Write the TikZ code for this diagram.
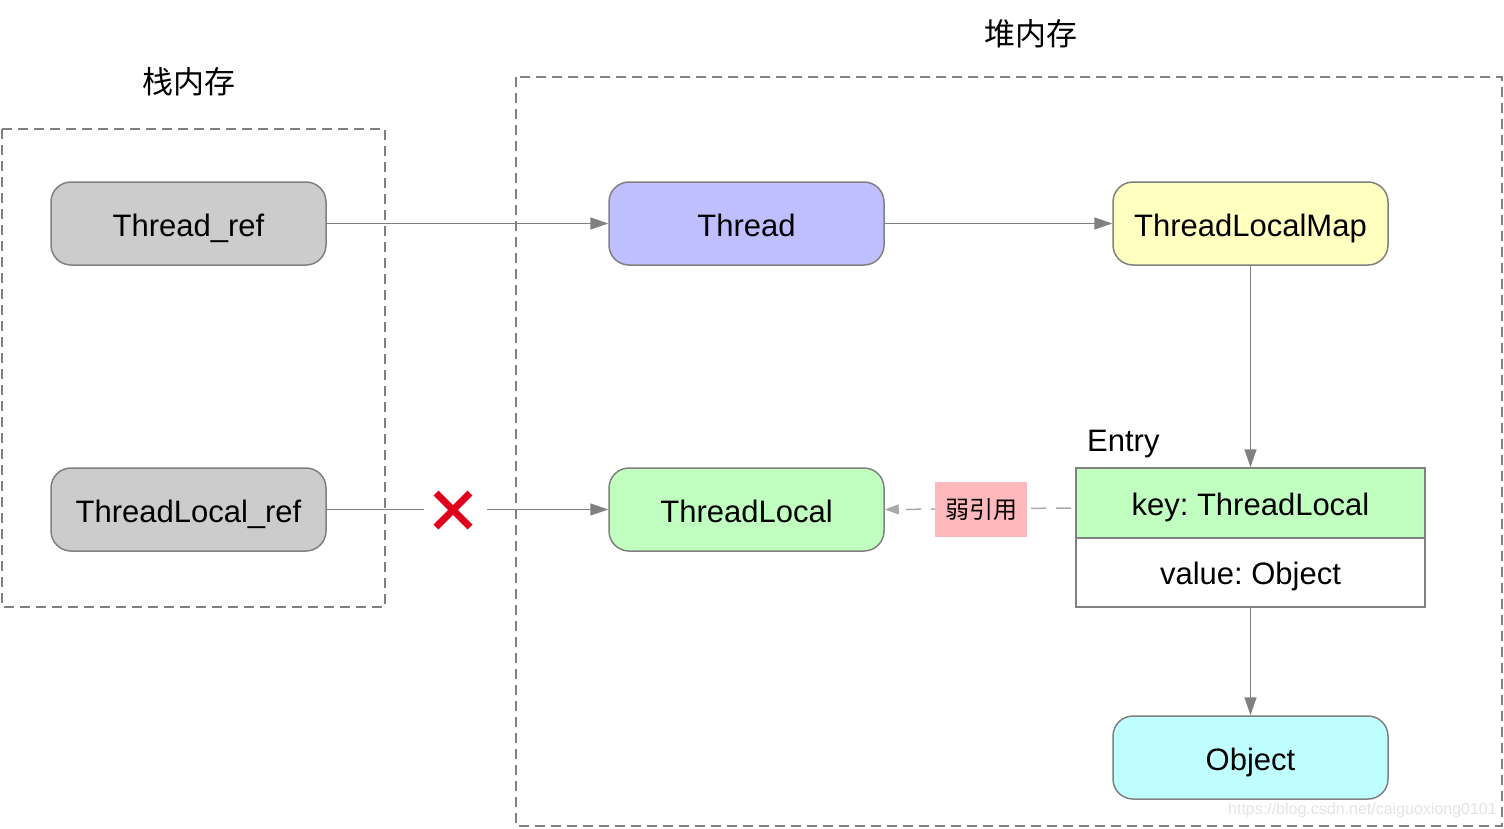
\documentclass[tikz,border=0pt]{standalone}
\usepackage{fontspec}
\setmainfont{Liberation Sans}
\newfontfamily\cjk{Noto Sans CJK SC}
\usetikzlibrary{arrows.meta}
\definecolor{edgegray}{HTML}{808080}
\definecolor{lightedge}{HTML}{AAAAAA}
\definecolor{refgray}{HTML}{CCCCCC}
\definecolor{threadblue}{HTML}{BFBFFF}
\definecolor{mapyellow}{HTML}{FFFFC0}
\definecolor{localgreen}{HTML}{C0FFC0}
\definecolor{objcyan}{HTML}{C0FFFF}
\definecolor{weakpink}{HTML}{FFB8BC}
\definecolor{crossred}{HTML}{E0001B}
\tikzset{
  labelfont/.style={font=\frenchspacing\fontsize{31}{37}\selectfont},
  rbox/.style={draw=edgegray, line width=1.5pt, rounded corners=20pt,
    minimum width=275pt, minimum height=83pt, inner sep=0pt,
    text height=26pt, text depth=0pt, labelfont},
  rowbox/.style={draw=edgegray, line width=1.5pt, minimum width=349pt,
    inner sep=0pt, text height=24pt, text depth=0pt, labelfont},
  region/.style={draw=edgegray, line width=1.5pt, dash pattern=on 10pt off 6pt},
  conn/.style={draw=edgegray, line width=1.5pt, -{Triangle[length=18pt,width=12pt]}},
  plain/.style={draw=edgegray, line width=1.5pt},
  weak/.style={draw=lightedge, line width=1.5pt, dash pattern=on 15pt off 10pt,
    -{Triangle[length=14pt,width=10pt]}},
  title/.style={font=\cjk\fontsize{31}{36}\selectfont, inner sep=0pt},
}
\begin{document}
\begin{tikzpicture}[x=1pt,y=-1pt]
\useasboundingbox (0,0) rectangle (1504,828);
% regions
\draw[region] (2,129) rectangle (385,607);
\draw[region] (516,77) rectangle (1502,826);
\node[title] (stk) at (189,82) {栈内存};
\node[title] (heap) at (1031,34) {堆内存};
% nodes
\node[rbox, fill=refgray] (tref) at (188.5,223.5) {Thread\_ref};
\node[rbox, fill=refgray] (tlref) at (188.5,509.5) {ThreadLocal\_ref};
\node[rbox, fill=threadblue] (thread) at (746.5,223.5) {Thread};
\node[rbox, fill=mapyellow] (map) at (1250.5,223.5) {ThreadLocalMap};
\node[rbox, fill=localgreen] (tl) at (746.5,509.5) {ThreadLocal};
\node[rowbox, fill=localgreen, minimum height=70pt] (key) at (1250.5,503) {key: ThreadLocal};
\node[rowbox, fill=white, minimum height=69pt] (val) at (1250.5,572.5) {value: Object};
\node[anchor=base west, inner sep=0pt, labelfont] (entry) at (1087,451) {Entry};
\node[rbox, fill=objcyan] (obj) at (1250.5,757.5) {Object};
% connectors
\draw[conn] (tref) -- (thread);
\draw[conn] (thread) -- (map);
\draw[conn] (map) -- (key);
\draw[conn] (val) -- (obj);
\coordinate (cut1) at (424,509.5);
\coordinate (cut2) at (487,509.5);
\draw[plain] (tlref) -- (cut1);
\draw[conn] (cut2) -- (tl);
% cross
\draw[crossred, line width=7pt] (436,493) -- (470,527) (436,527) -- (470,493);
% weak reference
\coordinate (wstart) at (1071,508);
\draw[weak] (wstart) -- (tl.east);
\node[fill=weakpink, minimum width=92pt, minimum height=55pt, inner sep=0pt,
  font=\cjk\fontsize{24}{28}\selectfont] (wlabel) at (981,509.5) {弱引用};
% watermark
\node[anchor=south east, inner sep=0pt, text=gray!22, font=\fontsize{16}{19}\selectfont] (wm) at (1497,818) {https://blog.csdn.net/caiguoxiong0101};
\end{tikzpicture}
\end{document}
